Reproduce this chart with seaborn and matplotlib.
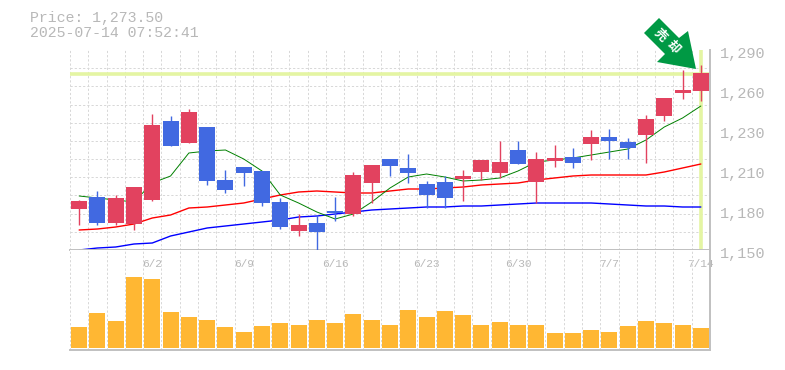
import matplotlib
matplotlib.use('AGG')
import matplotlib.pyplot as plt
from matplotlib.patches import Polygon
from matplotlib.transforms import ScaledTranslation
import numpy as np
import seaborn as sns

open_p = [1178.7, 1187.1, 1168.9, 1168.2, 1185.0, 1240.3, 1224.9, 1236.1, 1199.0, 1208.1, 1205.3, 1183.6,
          1163.3, 1168.9, 1177.3, 1175.2, 1196.9, 1213.7, 1207.4, 1196.2, 1197.6, 1199.7, 1204.6, 1203.9,
          1220.0, 1197.6, 1212.3, 1215.1, 1224.2, 1229.1, 1225.6, 1230.5, 1243.8, 1259.9, 1261.3]
close_p = [1184.3, 1168.9, 1186.4, 1194.1, 1237.5, 1222.8, 1246.6, 1198.3, 1192.0, 1203.9, 1182.9, 1166.1,
           1167.5, 1162.6, 1175.9, 1202.5, 1209.5, 1208.8, 1203.9, 1188.5, 1186.4, 1201.8, 1213.0, 1211.6,
           1210.2, 1213.7, 1214.4, 1210.9, 1229.1, 1226.3, 1221.4, 1241.7, 1256.4, 1262.0, 1273.9]
high_p = [1185.0, 1191.3, 1188.5, 1194.1, 1245.2, 1243.8, 1248.7, 1236.1, 1206.0, 1208.1, 1205.3, 1186.4,
          1175.2, 1174.5, 1187.1, 1204.6, 1209.5, 1213.7, 1217.2, 1198.3, 1201.8, 1206.0, 1213.0, 1226.3,
          1226.3, 1218.6, 1223.5, 1221.4, 1234.0, 1234.7, 1228.4, 1244.5, 1256.4, 1276.0, 1279.5]
low_p = [1167.5, 1167.5, 1167.5, 1164.0, 1184.3, 1222.8, 1224.9, 1195.5, 1189.9, 1194.8, 1180.8, 1164.7,
         1159.8, 1150.0, 1170.3, 1173.8, 1182.9, 1201.8, 1196.9, 1179.4, 1179.4, 1184.3, 1199.0, 1200.4,
         1210.2, 1182.9, 1208.1, 1207.4, 1213.0, 1213.7, 1213.7, 1210.9, 1240.3, 1255.7, 1254.3]
ma_short = [1187.8, 1186.4, 1185.0, 1183.6, 1196.9, 1201.8, 1217.9, 1219.3, 1220.0, 1213.7, 1205.3, 1188.5,
            1182.9, 1176.6, 1171.7, 1175.2, 1183.6, 1193.4, 1201.1, 1203.2, 1201.1, 1198.3, 1199.0, 1200.4,
            1205.3, 1211.6, 1213.0, 1214.4, 1216.5, 1218.6, 1220.7, 1227.0, 1236.1, 1242.4, 1250.8]
ma_mid = [1164.0, 1164.7, 1166.1, 1168.2, 1172.4, 1174.5, 1179.4, 1180.1, 1181.5, 1182.9, 1185.7, 1188.5,
          1190.6, 1191.3, 1190.6, 1189.9, 1189.9, 1191.3, 1192.7, 1192.7, 1193.4, 1194.1, 1195.5, 1196.2,
          1196.9, 1199.0, 1200.4, 1201.8, 1202.5, 1202.5, 1202.5, 1202.5, 1204.6, 1207.4, 1210.2]
ma_long = [1150.0, 1151.4, 1152.1, 1154.2, 1154.9, 1159.8, 1162.6, 1165.4, 1166.8, 1168.2, 1169.6, 1171.0,
           1173.1, 1173.8, 1175.2, 1176.6, 1178.0, 1178.7, 1179.4, 1180.1, 1180.1, 1180.8, 1180.8, 1181.5,
           1182.2, 1182.9, 1182.9, 1182.9, 1182.9, 1182.2, 1181.5, 1180.8, 1180.8, 1180.1, 1180.1]
volume = [63, 105, 81, 213, 207, 108, 93, 84, 63, 48, 66, 75, 69, 84, 75, 102, 84,
          69, 114, 93, 111, 99, 69, 78, 69, 69, 45, 45, 54, 48, 66, 81, 75, 69, 60]
week_labels = ['6/2', '6/9', '6/16', '6/23', '6/30', '7/7', '7/14']
week_pos = [4, 9, 14, 19, 24, 29, 34]
price_labels = ['1,150', '1,180', '1,210', '1,230', '1,260', '1,290']
last_price = 1273.5

W, H = 785, 370
RED, BLUE = '#e2425f', '#4169e1'
TEXT = '#b8b8b8'
GRID = '#d8d8d8'
EDGE = '#c0c0c0'
HILITE = '#e4f5a3'
DASH = (0, (2.2, 2))
MONO = ['Liberation Mono', 'DejaVu Sans Mono']

sns.set_style('white')
plt.rcParams['font.family'] = MONO

def box(x0, y0, x1, y1):
    return [x0 / W, 1 - y1 / H, (x1 - x0) / W, (y1 - y0) / H]

fig = plt.figure(figsize=(W / 100, H / 100), dpi=100)
ax = fig.add_axes(box(70, 50, 710, 250))
ax_vol = fig.add_axes(box(70, 250, 710, 350), sharex=ax)

n = len(open_p)
days = np.arange(n)
colors = [RED if c >= o else BLUE for o, c in zip(open_p, close_p)]

# price panel
ax.axhline(last_price, color=HILITE, lw=2.6, zorder=1.5)
ax.axvline(days[-1], color=HILITE, lw=2.6, zorder=1.5)
for vals, col, lw in [(ma_long, '#0000ff', 1.0), (ma_mid, '#ff0000', 1.0), (ma_short, '#008000', 0.7)]:
    sns.lineplot(x=days, y=vals, color=col, lw=lw, ax=ax, zorder=2, solid_joinstyle='miter')
ax.vlines(days, low_p, high_p, colors=colors, lw=1.0, zorder=3)
bottoms = np.minimum(open_p, close_p)
heights = np.abs(np.array(close_p) - np.array(open_p))
ax.bar(days, heights, bottom=bottoms, width=16 / 18.286, color=colors, lw=0, zorder=3)

ax.set_xlim(-0.5, n - 0.5)
ax.set_ylim(1150, 1290)
ax.set_yticks(np.linspace(1150, 1290, 12), minor=True)
ax.set_yticks(np.linspace(1150, 1290, 6), labels=price_labels)
ax.yaxis.tick_right()
ax.tick_params(axis='y', which='both', length=0, pad=7, labelsize=11, labelcolor=TEXT)
shift = ScaledTranslation(0, -3 / 100, fig.dpi_scale_trans)
for lab in ax.get_yticklabels():
    lab.set_transform(lab.get_transform() + shift)
ax.set_xticks(days - 0.5, minor=True)
ax.set_xticks(week_pos)
ax.tick_params(axis='x', which='both', length=0, labelbottom=False)
ax.grid(which='minor', color=GRID, ls=DASH, lw=0.72)
ax.grid(which='major', visible=False)
ax.set_axisbelow(True)

# volume panel
sns.barplot(x=days, y=volume, native_scale=True, color='#ffb733', saturation=1, width=16 / 18.286,
            lw=0, ax=ax_vol, zorder=3)
ax_vol.set_ylim(-6, 294)
ax_vol.set_yticks([])
ax_vol.set_xlim(-0.5, n - 0.5)
ax_vol.set_xticks(days - 0.5, minor=True)
ax_vol.set_xticks(week_pos, labels=week_labels)
ax_vol.xaxis.tick_top()
ax_vol.tick_params(axis='x', which='both', length=0, pad=-14, labelsize=8, labelcolor=TEXT)
ax_vol.grid(axis='x', which='minor', color=GRID, ls=DASH, lw=0.72)
ax_vol.grid(axis='x', which='major', visible=False)
ax_vol.set_axisbelow(True)
ax_vol.set_xlabel('')
ax_vol.set_ylabel('')

for a in (ax, ax_vol):
    for side in ('left', 'top'):
        a.spines[side].set_visible(False)
    for side in ('right', 'bottom'):
        a.spines[side].set_color(EDGE)
        a.spines[side].set_linewidth(1.4)

fig.text(30 / W, 1 - 18 / H, 'Price: 1,273.50', color=TEXT, fontsize=10.7, va='center')
fig.text(30 / W, 1 - 33 / H, '2025-07-14 07:52:41', color=TEXT, fontsize=10.7, va='center')

# arrow badge, placed in figure pixels
badge = [(644, 33), (659, 18), (679, 38), (688, 31), (696, 69), (657, 62), (665, 54)]
fig.add_artist(Polygon([(x / W, 1 - y / H) for x, y in badge], closed=True, transform=fig.transFigure,
                       fc='#009944', ec='none', zorder=5))
for ch, (cx, cy) in zip('売却', [(660, 35), (673, 47)]):
    fig.text(cx / W, 1 - cy / H, ch, color='white', fontsize=9, fontweight='bold', rotation=-45,
             rotation_mode='anchor', ha='center', va='center', family=['Noto Sans CJK JP', 'DejaVu Sans'], zorder=6)

fig.savefig('out.png', dpi=100)
